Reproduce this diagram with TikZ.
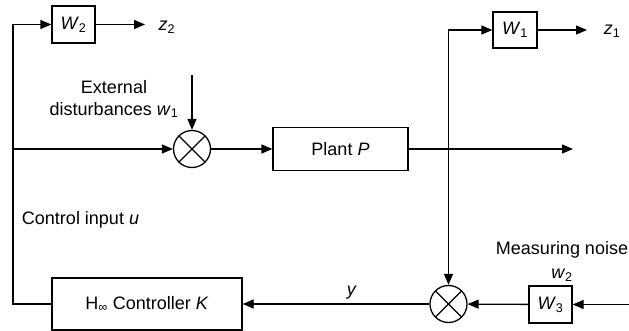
\documentclass[tikz,border=0pt]{standalone}
\usepackage{fontspec}
\setmainfont{Liberation Sans}
\usetikzlibrary{arrows.meta}
\newcommand{\vsub}[2]{\textit{#1}\textsubscript{#2}}

\begin{document}
\begin{tikzpicture}[
  x=1pt, y=-1pt,
  font=\fontsize{18}{22}\selectfont,
  line width=1.3pt,
  wbox/.style={draw,minimum width=43pt,minimum height=37pt,inner sep=0pt},
  bigbox/.style={draw,minimum height=43pt,inner sep=0pt},
  summer/.style={draw,circle,minimum size=37pt,inner sep=0pt,
    path picture={\draw (path picture bounding box.north west) -- (path picture bounding box.south east)
                        (path picture bounding box.north east) -- (path picture bounding box.south west);}},
  sig/.style={-{Triangle[length=11pt,width=9pt]}}
]
  \useasboundingbox (0,0) rectangle (629,331);

  % blocks
  \node[wbox] (w2box) at (73.5,24.5) {\vsub{W}{2}};
  \node[wbox,minimum width=44pt,minimum height=36pt] (w1box) at (515,30) {\vsub{W}{1}};
  \node[wbox] (w3box) at (550.5,304.5) {\vsub{W}{3}};
  \node[bigbox,minimum width=135pt] (plant) at (340.5,149) {Plant \textit{P}};
  \node[bigbox,minimum width=190pt,minimum height=52pt] (ctrl) at (147,304) {H\textsubscript{∞} Controller \textit{K}};
  \node[summer] (sum1) at (192,149) {};
  \node[summer] (sum2) at (448.5,304) {};

  % labels
  \node (z2) at (167,27) {\vsub{z}{2}};
  \node (z1) at (612,31) {\vsub{z}{1}};
  \node[align=center] (dist) at (114,99) {External\\disturbances \vsub{w}{1}};
  \node[anchor=west] (uinput) at (18,220) {Control input \textit{u}};
  \node[anchor=west] (noise) at (492,250) {Measuring noise};
  \node (w2lab) at (562,275) {\vsub{w}{2}};

  % free ends
  \coordinate (ul) at (13,149);
  \coordinate (z2end) at (145,24.5);
  \coordinate (z1end) at (587,30);
  \coordinate (w1in) at (192,75);
  \coordinate (out) at (573,149);
  \coordinate (tap) at (448.5,149);
  \coordinate (w2in) at (629,304.5);

  % connectors
  \draw[sig] (ctrl.west) -| (ul) |- (w2box.west);
  \draw[sig] (ul) -- (sum1);
  \draw[sig] (w2box) -- (z2end);
  \draw[sig] (w1in) -- (sum1);
  \draw[sig] (sum1) -- (plant);
  \draw[sig] (plant) -- (out);
  \draw[sig] (tap) |- (w1box);
  \draw[sig] (tap) -- (sum2);
  \draw[sig] (w1box) -- (z1end);
  \draw[sig] (w2in) -- (w3box);
  \draw[sig] (w3box) -- (sum2);
  \draw[sig] (sum2) -- node[pos=0.415,above=1pt] {\textit{y}} (ctrl);
\end{tikzpicture}
\end{document}
